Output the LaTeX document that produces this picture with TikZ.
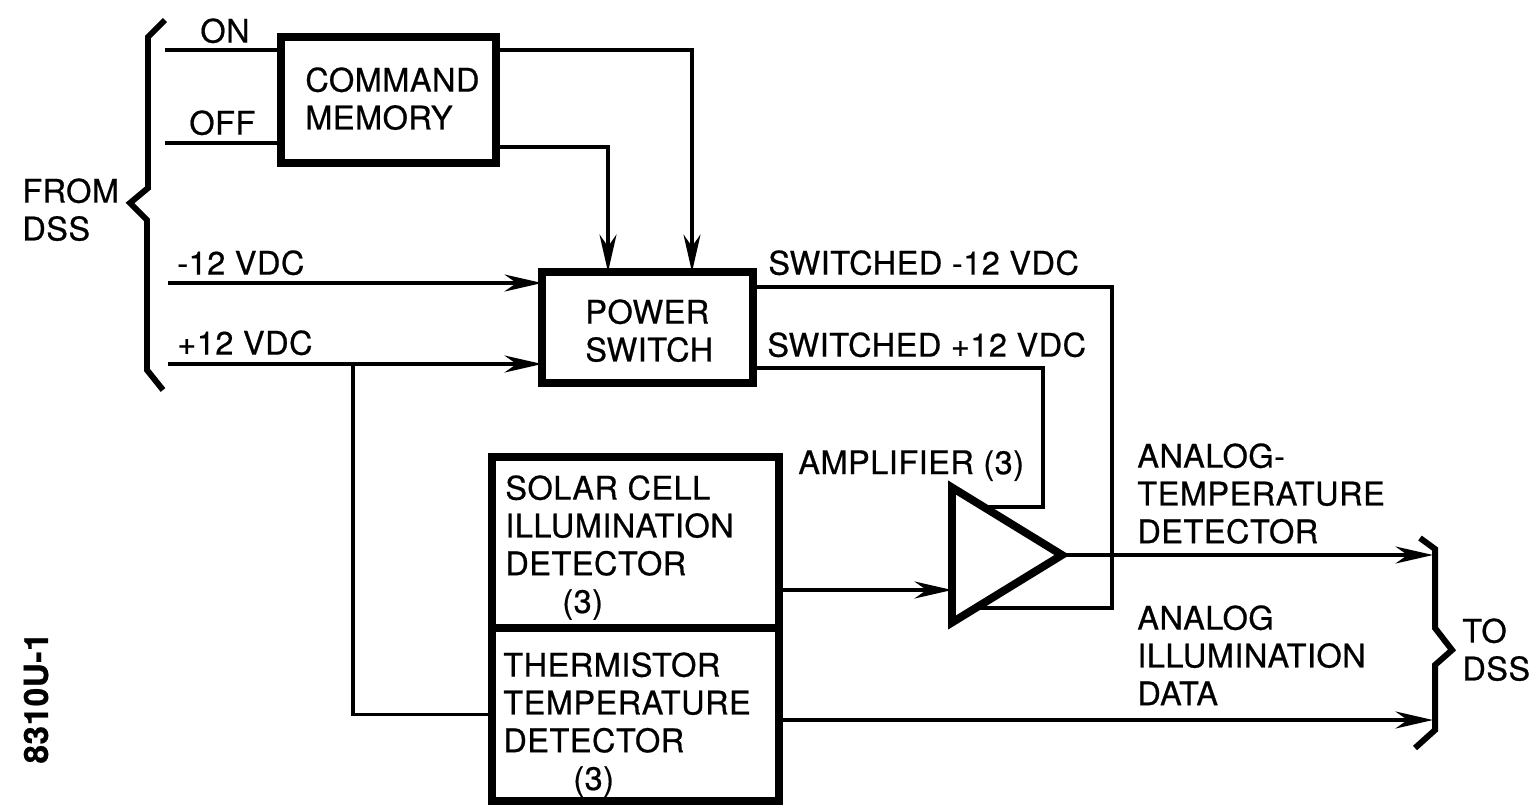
\documentclass[tikz,border=0pt]{standalone}
\usepackage{fontspec}
\setmainfont{TeX Gyre Heros}[FakeBold=0.6, LetterSpace=1.5]
\usetikzlibrary{shapes.geometric, arrows.meta, positioning, calc}
\newcommand{\lblfont}{\fontsize{18.5}{21.5}\selectfont}
\tikzset{
  block/.style={rectangle, draw=black, line width=4.5pt, inner sep=0pt,
    outer sep=0pt},
  ampnode/.style={isosceles triangle, isosceles triangle stretches,
    draw=black, line width=4.5pt, inner sep=0pt, outer sep=0pt,
    minimum width=2.7cm, minimum height=2.2cm},
  lbl/.style={anchor=north west, inner sep=0pt, align=left, font=\lblfont},
  arrow/.style={-{Stealth[length=0.75cm,width=0.34cm,inset=0.24cm]}, line width=2pt},
  line/.style={line width=2pt},
  bracket/.style={line width=3.4pt, line join=miter}
}
\begin{document}
\begin{tikzpicture}[x=0.02cm, y=-0.02cm]
  \useasboundingbox (0,0) rectangle (1530,809);
  % blocks
  \node[block, minimum width=4.3cm, minimum height=2.52cm] (cm) at (388.5,100) {};
  \node[block, minimum width=4.22cm, minimum height=2.22cm] (ps) at (647.5,327.5) {};
  \node[block, minimum width=5.74cm, minimum height=3.42cm] (solar) at (635.5,542.5) {};
  \node[block, minimum width=5.74cm, minimum height=3.46cm] (therm) at (635.5,714.5) {};
  \node[ampnode, anchor=lower side] (amp) at (952,555) {};
  % block texts
  \node[lbl] (cmlbl) at (305,67) {COMMAND\\MEMORY};
  \node[lbl] (pslbl) at (585,299) {POWER\\SWITCH};
  \node[lbl] (solarlbl) at (505,475)
    {SOLAR CELL\\ILLUMINATION\\DETECTOR\\\hspace*{1.14cm}(3)};
  \node[lbl] (thermlbl) at (503,652)
    {THERMISTOR\\TEMPERATURE\\DETECTOR\\\hspace*{1.4cm}(3)};
  % labels
  \node[lbl] (fromlbl) at (22,178) {FROM\\DSS};
  \node[lbl] (onlbl) at (200,18) {ON};
  \node[lbl] (offlbl) at (189,110) {OFF};
  \node[lbl] (m12lbl) at (177,250) {-12 VDC};
  \node[lbl] (p12lbl) at (177,330) {+12 VDC};
  \node[lbl] (sm12lbl) at (768,250) {SWITCHED -12 VDC};
  \node[lbl] (sp12lbl) at (767,332) {SWITCHED +12 VDC};
  \node[lbl] (amplbl) at (798,450) {AMPLIFIER (3)};
  \node[lbl] (atlbl) at (1137,443) {ANALOG-\\TEMPERATURE\\DETECTOR};
  \node[lbl] (ailbl) at (1137,605) {ANALOG\\ILLUMINATION\\DATA};
  \node[lbl] (tolbl) at (1462,618) {TO\\DSS};
  \node[rotate=90, inner sep=0pt, font=\fontsize{19}{22}\selectfont\bfseries]
    (figno) at (36,698) {8310U-1};
  % braces
  \draw[bracket] (165,20) -- (148,37) -- (148,188) -- (130,203)
    -- (147,220) -- (147,370) -- (163,390);
  \draw[bracket] (1420,538) -- (1435,549) -- (1435,628) -- (1452,650)
    -- (1435,665) -- (1435,730) -- (1415,748);
  % inputs from DSS
  \coordinate (onin) at (165,50);
  \coordinate (offin) at (165,143);
  \coordinate (m12in) at (168,283);
  \coordinate (p12in) at (168,364);
  \coordinate (tap) at (353,364);
  \draw[line] (onin) -- (onin -| cm.west);
  \draw[line] (offin) -- (offin -| cm.west);
  \draw[arrow] (m12in) -- (m12in -| ps.west);
  \draw[arrow] (p12in) -- (p12in -| ps.west);
  \draw[line] (tap) |- (therm.west);
  % command memory to power switch
  \draw[arrow] ([yshift=1cm]cm.east) -| ([xshift=0.89cm]ps.north);
  \draw[arrow] ([yshift=-0.94cm]cm.east) -| ([xshift=-0.79cm]ps.north);
  % switched supplies to amplifier
  \coordinate (ampnw) at ([yshift=1.35cm]amp.lower side);
  \coordinate (ampsw) at ([yshift=-1.35cm]amp.lower side);
  \coordinate (ampup) at ($(ampnw)!0.3!(amp.apex)$);
  \coordinate (amplow) at ($(ampsw)!0.22!(amp.apex)$);
  \coordinate (sm12) at (1112,608);
  \coordinate (sp12) at (1043,507);
  \draw[line] ([yshift=0.81cm]ps.east) -| (sm12) -- (sm12 -| amplow);
  \draw[line] ([yshift=-0.81cm]ps.east) -| (sp12) -- (sp12 -| ampup);
  % signal outputs
  \coordinate (solout) at ([yshift=-0.95cm]solar.east);
  \coordinate (thermout) at ([yshift=-0.11cm]therm.east);
  \coordinate (tobr) at (1433,0);
  \draw[arrow] (solout) -- (solout -| amp.lower side);
  \draw[arrow] (amp.apex) -- (amp.apex -| tobr);
  \draw[arrow] (thermout) -- (thermout -| tobr);
\end{tikzpicture}
\end{document}
